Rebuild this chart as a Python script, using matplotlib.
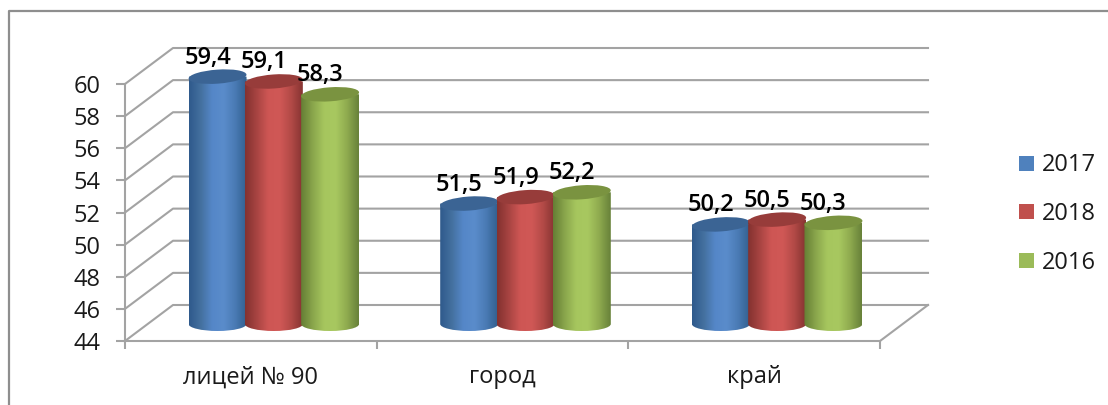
import numpy as np
import matplotlib
matplotlib.use("Agg")
import matplotlib.pyplot as plt
from matplotlib.lines import Line2D
from matplotlib.patches import Patch, PathPatch, Ellipse
from matplotlib.path import Path
from matplotlib.colors import LinearSegmentedColormap
from matplotlib.transforms import IdentityTransform

categories = ["лицей № 90", "город", "край"]
series_names = ["2017", "2018", "2016"]
values_2017 = [59.4, 51.5, 50.2]
values_2018 = [59.1, 51.9, 50.5]
values_2016 = [58.3, 52.2, 50.3]
series_values = [values_2017, values_2018, values_2016]
y_ticks = list(range(44, 61, 2))

base_colors = ["#4F81BD", "#C0504D", "#9BBB59"]
top_colors = ["#3B6494", "#973C3A", "#7A9340"]
side_ramps = [
    ["#2F5A8C", "#44709F", "#5587C8", "#5A8CCB", "#4A7BB5", "#33608F"],
    ["#843230", "#A84442", "#CE5654", "#D05856", "#B34A47", "#873432"],
    ["#667F35", "#8AA64C", "#A6C65E", "#A8C860", "#8FAB4F", "#68823A"],
]
grid_color = "#A3A3A3"
text_color = "#1A1A1A"

plt.rcParams["font.family"] = ["Open Sans", "DejaVu Sans"]

W, H = 1108, 405
fig = plt.figure(figsize=(W / 100, H / 100), dpi=100, facecolor="white")
ax = fig.add_axes([125 / W, (H - 341) / H, 755 / W, 257 / H])
ax.set_xlim(0, 3)
ax.set_ylim(44, 60)
ax.patch.set_visible(False)
ax.autoscale(False)

# outer chart frame (open on the right and at the bottom)
fig.add_artist(Line2D([9 / W, 9 / W, 1], [0, (H - 11) / H, (H - 11) / H],
                      transform=fig.transFigure, color="#8E8E8E", lw=1.6))

ident = IdentityTransform()
DX, DY = 48, 36           # depth of the 3-D box in pixels
BAR_DX, BAR_DY = 23, 17   # cylinders stand half-way into the box
LABEL_DX, LABEL_DY = 13, 36


def disp(x, v):
    return ax.transData.transform((x, v))


# walls and floor
for v in y_ticks:
    x0, y0 = disp(0, v)
    x1, y1 = disp(3, v)
    ax.add_line(Line2D([x0, x0 + DX, x1 + DX], [y0, y0 + DY, y1 + DY], transform=ident,
                       color=grid_color, lw=1.5, clip_on=False, zorder=1))
x1, y1 = disp(3, 44)
ax.add_line(Line2D([x1, x1 + DX], [y1, y1 + DY], transform=ident,
                   color=grid_color, lw=1.5, clip_on=False, zorder=1))

# axes
for s in ("top", "right"):
    ax.spines[s].set_visible(False)
for s in ("left", "bottom"):
    ax.spines[s].set_color(grid_color)
    ax.spines[s].set_linewidth(1.5)
ax.set_yticks(y_ticks)
ax.set_xticks([0, 1, 2, 3])
ax.set_xticklabels([])
ax.set_xticks([0.5, 1.5, 2.5], minor=True)
ax.set_xticklabels(categories, minor=True)
ax.tick_params(axis="y", length=6.5, width=1.5, color=grid_color, labelsize=17,
               labelcolor=text_color, pad=11)
ax.tick_params(axis="x", which="major", length=6, width=1.5, color=grid_color)
ax.tick_params(axis="x", which="minor", length=0, labelsize=17,
               labelcolor=text_color, pad=17.5)

# cylinders
bar_w = 0.2237
half_px = 29
ry = 7
z = 5
for i, (vals, ramp, top) in enumerate(zip(series_values, side_ramps, top_colors)):
    cmap = LinearSegmentedColormap.from_list(series_names[i], ramp)
    for j, v in enumerate(vals):
        xc = j + 0.5 + (i - 1) * bar_w
        cx, ytop = disp(xc, v)
        _, ybot = disp(xc, 44)
        cx += BAR_DX
        ytop += BAR_DY
        ybot += BAR_DY
        k = 0.5523
        a, b = half_px, ry
        verts = [(cx - a, ytop), (cx - a, ybot),
                 (cx - a, ybot - k * b), (cx - k * a, ybot - b), (cx, ybot - b),
                 (cx + k * a, ybot - b), (cx + a, ybot - k * b), (cx + a, ybot),
                 (cx + a, ytop), (cx - a, ytop)]
        codes = [Path.MOVETO, Path.LINETO,
                 Path.CURVE4, Path.CURVE4, Path.CURVE4,
                 Path.CURVE4, Path.CURVE4, Path.CURVE4,
                 Path.LINETO, Path.CLOSEPOLY]
        clip = PathPatch(Path(verts, codes), transform=ident, facecolor="none",
                         edgecolor="none", zorder=z)
        ax.add_patch(clip)
        clip.set_clip_on(False)
        im = ax.imshow(np.linspace(0, 1, 64)[None, :], cmap=cmap, aspect="auto",
                       extent=(cx - a, cx + a, ybot - b, ytop), transform=ident,
                       zorder=z, interpolation="bilinear")
        im.set_clip_path(clip)
        im.set_clip_box(fig.bbox)
        cap = Ellipse((cx, ytop), 2 * a, 2 * b, angle=4, transform=ident, facecolor=top,
                      edgecolor="none", zorder=z + 0.5)
        ax.add_patch(cap)
        cap.set_clip_on(False)
        z += 1
ax.set_xlim(0, 3)
ax.set_ylim(44, 60)

# value labels
for i, vals in enumerate(series_values):
    for j, v in enumerate(vals):
        xc = j + 0.5 + (i - 1) * bar_w
        ax.annotate(f"{v:.1f}".replace(".", ","), xy=(xc, v), xycoords="data",
                    xytext=(LABEL_DX * 0.72, LABEL_DY * 0.72), textcoords="offset points",
                    ha="center", va="center", fontsize=17, fontweight="semibold",
                    color="black", zorder=100, annotation_clip=False)

# legend
handles = [Patch(facecolor=c, edgecolor="none", label=n)
           for c, n in zip(base_colors, series_names)]
fig.legend(handles=handles, loc="center left", bbox_to_anchor=(1017 / W, (H - 214) / H),
           frameon=False, fontsize=17, handlelength=0.6, handleheight=0.6,
           handletextpad=0.35, labelspacing=1.04, labelcolor=text_color, borderpad=0.1,
           borderaxespad=0)

fig.savefig("out.png", dpi=100, facecolor="white")
